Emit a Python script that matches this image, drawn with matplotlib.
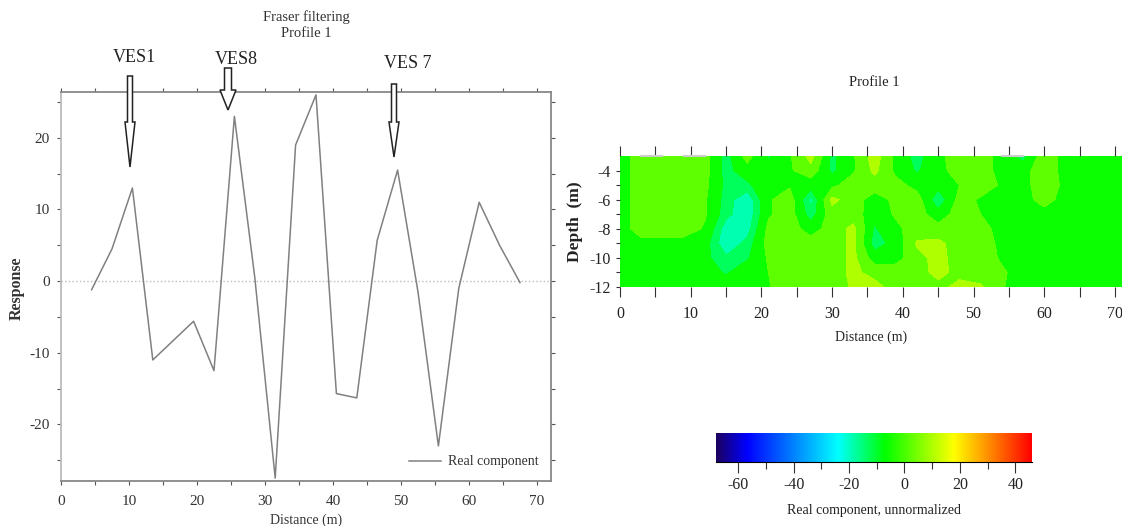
import numpy as np
import matplotlib
matplotlib.use("Agg")
from matplotlib import pyplot as plt
from matplotlib.colors import LinearSegmentedColormap
from matplotlib.patches import Polygon

plt.rcParams['font.family'] = ['Liberation Serif', 'DejaVu Serif']

W, H = 1122, 526

# left profile
distance = [4.5, 7.5, 10.5, 13.5, 16.5, 19.5, 22.5, 25.5, 28.5, 31.5, 34.5,
            37.5, 40.5, 43.5, 46.5, 49.5, 52.5, 55.5, 58.5, 61.5, 64.5, 67.5]
response = [-1.2, 4.5, 13, -11, -8.3, -5.6, -12.5, 23, 0.5, -27.5, 19,
            26, -15.7, -16.3, 5.7, 15.5, -1.5, -23, -1, 11, 5, -0.2]

# VES arrows: name, label x/y (px), arrow x, top, head start, tip (px), half widths
ves_names = ['VES1', 'VES8', 'VES 7']
ves_label_x = [134, 236, 408]
ves_label_y = [57, 60, 64]
ves_x = [130, 228, 394]
ves_top = [76, 68, 84]
ves_head = [122, 90, 122]
ves_tip = [167, 110, 157]
ves_shaft = [2.5, 3.5, 2.5]
ves_wing = [5, 8, 5]

# right section
sec_x = [0, 3, 6, 9, 12, 15, 18, 21, 24, 27, 30, 33, 36, 39, 42, 45, 48, 51, 54, 57, 60, 63, 66, 69, 72]
sec_depth = [-3, -4, -5, -6, -7, -8, -9, -10, -11, -12]
sec_values = [
    [-5, 1, 2, 2, 1, -13, 1, -11, -3, 9, -12, -3, 10, -4, -13, -4, 2, 2, -5, -13, 3, -5, -5, -5, -5],
    [-5, 1, 2, 2, 1, -13, -5, -6, -3, 3, -12, -3, 8, -4, -11, -5, 2, 2, -5, -5, 3, -5, -5, -5, -5],
    [-5, 1, 2, 2, 0, -12, -12, -3, -3, -7, -4, 2, 2, 1, -5, -7, -2, 2, -3, -5, 3, -4, -5, -5, -5],
    [-5, 1, 2, 2, -1, -13, -21, -3, 2, -18, 8, 2, -6, 0, 2, -16, 1, -3, -5, -5, 1, -5, -5, -5, -5],
    [-5, 1, 2, 2, -1, -14, -21, -3, 2, -14, 3, 2, -7, -1, 2, -7, 2, -2, -5, -5, -5, -5, -5, -5, -5],
    [-5, 1, 2, 2, -3, -20, -19, 0, 2, -6, 2, 8, -11, -4, 2, 1, 2, 1, -5, -5, -5, -5, -5, -5, -5],
    [-5, -4, -5, -5, -7, -21, -14, 1, 2, 2, 2, 8, -14, -7, 7, 8, 2, 2, -4, -5, -5, -5, -5, -5, -5],
    [-5, -5, -5, -5, -8, -15, -11, -1, 2, 2, 2, 8, -6, -5, 3, 9, 2, 2, -3, -5, -5, -5, -5, -5, -5],
    [-5, -5, -5, -5, -6, -11, -5, -2, 2, 2, 2, 8, 3, 2, 2, 9, 3, 2, -1, -5, -5, -5, -5, -5, -5],
    [-5, -5, -5, -5, -5, -5, -5, -2.5, 2, 2, 2, 7, 9, 2, 2, 3, 9, 7, -1.5, -5, -5, -5, -5, -5, -5],
]
sec_levels = [-28, -22, -16, -10, -2, 6, 14]
gaps = [(3, 6), (9, 12), (54, 57)]

# colour scale
cb_min, cb_max = -68, 46
cb_stops = [-68, -57, -24, -7, 18, 46]
cb_colors = ['#1c0060', '#0000ff', '#00ffff', '#00ff00', '#ffff00', '#ff0000']
cb_ticks = [-60, -40, -20, 0, 20, 40]
cb_minor = [-50, -30, -10, 10, 30]


def px_axes(left, top, right, bottom):
    return [left / W, 1 - bottom / H, (right - left) / W, (bottom - top) / H]


fig = plt.figure(figsize=(W / 100, H / 100), dpi=100)

ink = '#555555'
ax = fig.add_axes(px_axes(61, 92, 551, 481))
ax.plot(distance, response, color='#808080', lw=1.1, zorder=3, label='Real component')
ax.axhline(0, color='#bbbbbb', lw=1, ls=':', zorder=1)
ax.set_xlim(0, 72.06)
ax.set_ylim(-27.9, 26.4)
ax.set_xticks(np.arange(0, 71, 10))
ax.set_xticks(np.arange(5, 71, 10), minor=True)
ax.set_yticks([-20, -10, 0, 10, 20])
ax.set_yticks([-25, -15, -5, 5, 15, 25], minor=True)
ax.set_yticklabels(['-20', '-10', '0', '10', '20'])
ax.tick_params(which='both', top=True, right=True, color=ink, length=3, width=0.8,
               labelsize=11, labelcolor='#333333', pad=5)
ax.tick_params(axis='x', pad=7)
for s in ax.spines.values():
    s.set_color('#888888')
    s.set_linewidth(1.3)
ax.spines['left'].set_color('#bbbbbb')
ax.set_xlabel('Distance (m)', fontsize=10, color='#333333', labelpad=4)
fig.text(17 / W, 1 - 288 / H, 'Response', fontsize=11.5, fontweight='bold', rotation=90,
         ha='center', va='center', color='#333333')
ax.legend(loc='lower right', frameon=False, fontsize=10, handlelength=2.3, handletextpad=0.5,
          labelcolor='#333333', borderaxespad=0.5)
fig.text(306 / W, 1 - 25 / H, 'Fraser filtering\nProfile 1', fontsize=10.5, ha='center',
         va='center', color='#333333', linespacing=1.3)

for i in range(len(ves_names)):
    fig.text(ves_label_x[i] / W, 1 - ves_label_y[i] / H, ves_names[i], fontsize=13,
             ha='center', va='center', color='#222222', zorder=5)
    x, sw, hw = ves_x[i], ves_shaft[i], ves_wing[i]
    pts = [(x - sw, ves_top[i]), (x + sw, ves_top[i]), (x + sw, ves_head[i]),
           (x + hw, ves_head[i]), (x, ves_tip[i]), (x - hw, ves_head[i]), (x - sw, ves_head[i])]
    fig.add_artist(Polygon([(a / W, 1 - b / H) for a, b in pts], closed=True,
                           transform=fig.transFigure, fc='white', ec='#222222', lw=1.1, zorder=4))

cmap = LinearSegmentedColormap.from_list(
    'scale', [((s - cb_min) / (cb_max - cb_min), c) for s, c in zip(cb_stops, cb_colors)])

ax2 = fig.add_axes(px_axes(620, 156, 1122, 287))
ax2.contourf(sec_x, sec_depth, sec_values, levels=sec_levels, cmap=cmap, vmin=cb_min, vmax=cb_max)
ax2.set_xlim(0, 71)
ax2.set_ylim(-11.9, -3)
ax2.set_xticks(np.arange(0, 71, 10))
ax2.set_xticks(np.arange(5, 71, 10), minor=True)
ax2.set_yticks([-12, -10, -8, -6, -4])
ax2.set_yticks([-11, -9, -7, -5], minor=True)
ax2.set_yticklabels(['-12', '-10', '-8', '-6', '-4'])
ax2.tick_params(axis='x', which='both', top=True, color='#333333', length=7, width=0.8,
                labelsize=11.5, labelcolor='#222222', pad=7)
ax2.tick_params(axis='y', which='both', color='#333333', length=3, width=0.8,
                labelsize=11.5, labelcolor='#222222', pad=4)
for s in ax2.spines.values():
    s.set_visible(False)
for a, b in gaps:
    ax2.plot([a, b], [-3, -3], color='#cccccc', lw=1.5, clip_on=False, zorder=4)
ax2.set_xlabel('Distance (m)', fontsize=10, color='#222222', labelpad=6)
fig.text(575 / W, 1 - 222 / H, 'Depth  (m)', fontsize=12.5, fontweight='bold', rotation=90,
         ha='center', va='center', color='#222222')
fig.text(874 / W, 1 - 83 / H, 'Profile 1', fontsize=10.5, ha='center', va='center', color='#222222')

cax = fig.add_axes(px_axes(716, 433, 1032, 462))
grad = np.linspace(cb_min, cb_max, 512).reshape(1, -1)
cax.imshow(grad, aspect='auto', cmap=cmap, extent=[cb_min, cb_max, 0, 1], vmin=cb_min, vmax=cb_max)
cax.set_yticks([])
cax.set_xticks(cb_ticks)
cax.set_xticks(cb_minor, minor=True)
cax.set_xticklabels(['-60', '-40', '-20', '0', '20', '40'])
cax.tick_params(which='major', length=8, width=0.8, color='#333333', labelsize=11.5,
                labelcolor='#222222', pad=3)
cax.tick_params(which='minor', length=5, width=0.8, color='#333333')
for s in cax.spines.values():
    s.set_visible(False)
cax.spines['bottom'].set_visible(True)
cax.set_xlabel('Real component, unnormalized', fontsize=10, color='#222222', labelpad=8)

fig.savefig('out.png', dpi=100)
